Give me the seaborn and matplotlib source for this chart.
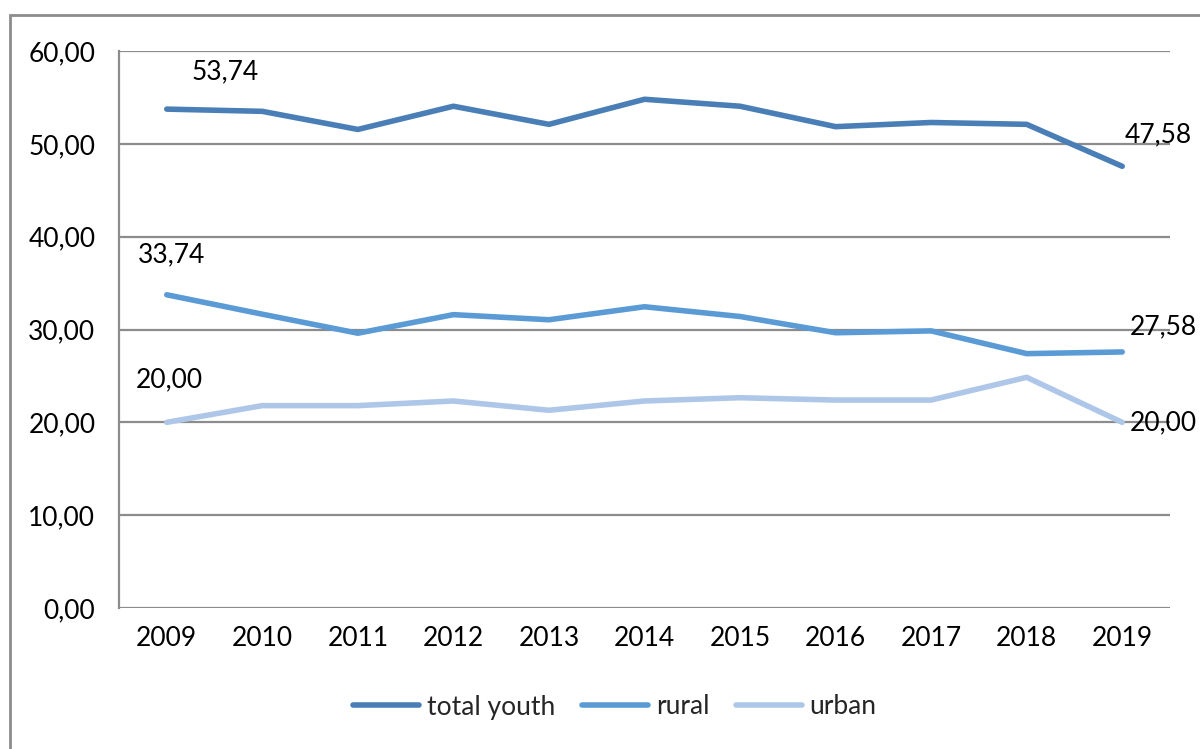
import matplotlib
matplotlib.use("Agg")
import matplotlib.pyplot as plt
from matplotlib.patches import Rectangle
import pandas as pd
import seaborn as sns

years = ["2009", "2010", "2011", "2012", "2013", "2014", "2015", "2016", "2017", "2018", "2019"]
total_youth = [53.74, 53.5, 51.55, 54.05, 52.1, 54.8, 54.05, 51.85, 52.3, 52.1, 47.58]
rural = [33.74, 31.65, 29.6, 31.6, 31.05, 32.45, 31.4, 29.65, 29.85, 27.4, 27.58]
urban = [20.00, 21.8, 21.8, 22.3, 21.3, 22.3, 22.65, 22.4, 22.4, 24.85, 20.00]
series_names = ["total youth", "rural", "urban"]
colors = ["#4a7eb7", "#5b9bd5", "#aec7e8"]

df = pd.DataFrame({"year": years * 3,
                   "value": total_youth + rural + urban,
                   "series": sum([[s] * len(years) for s in series_names], [])})
df["x"] = df.groupby("series").cumcount()

sns.set_style("white")
plt.rcParams["font.family"] = ["Lato", "DejaVu Sans"]
fs = 19

fig = plt.figure(figsize=(12, 7.49), dpi=100)
ax = fig.add_axes([119/1200, 1 - 608/749, (1170 - 119)/1200, (608 - 51)/749])

sns.lineplot(data=df, x="x", y="value", hue="series", palette=colors,
             linewidth=4, ax=ax, legend=True, solid_capstyle="round")

ax.set_xlim(-0.5, len(years) - 0.5)
ax.set_ylim(0, 60)
ax.set_yticks(range(0, 61, 10))
ax.set_yticklabels([f"{v},00" for v in range(0, 61, 10)])
ax.set_xticks(range(len(years)))
ax.set_xticklabels(years)
ax.tick_params(axis="both", length=0, labelsize=fs, colors="black")
ax.tick_params(axis="y", pad=17)
ax.tick_params(axis="x", pad=13)
ax.yaxis.grid(True, color="#8c8c8c", linewidth=1.6)
ax.set_axisbelow(True)
ax.set_xlabel("")
ax.set_ylabel("")
for side in ["top", "right", "bottom"]:
    ax.spines[side].set_visible(False)
ax.spines["left"].set_color("#8c8c8c")
ax.spines["left"].set_linewidth(1.6)

def fmt(v):
    return f"{v:.2f}".replace(".", ",")

last = len(years) - 1
labels = [(0, total_youth[0], (58, 37)), (0, rural[0], (5, 40)), (0, urban[0], (3, 43)),
          (last, total_youth[-1], (36, 31)), (last, rural[-1], (41, 25)), (last, urban[-1], (41, 0))]
for xi, v, off in labels:
    ax.annotate(fmt(v), (xi, v), xytext=off, textcoords="offset pixels",
                ha="center", va="center", fontsize=fs, color="black", annotation_clip=False)

handles, labs = ax.get_legend_handles_labels()
ax.legend(handles, labs, loc="center", bbox_to_anchor=(615/1200, 1 - 707/749),
          bbox_transform=fig.transFigure, ncol=3, frameon=False, fontsize=fs,
          handlelength=2.5, handletextpad=0.3, columnspacing=1.0)

fig.patches.append(Rectangle((10/1200, -0.1), 1.2, 1 - 15/749 + 0.1, transform=fig.transFigure,
                             fill=False, edgecolor="#8c8c8c", linewidth=2))

fig.savefig("out.png", dpi=100)
